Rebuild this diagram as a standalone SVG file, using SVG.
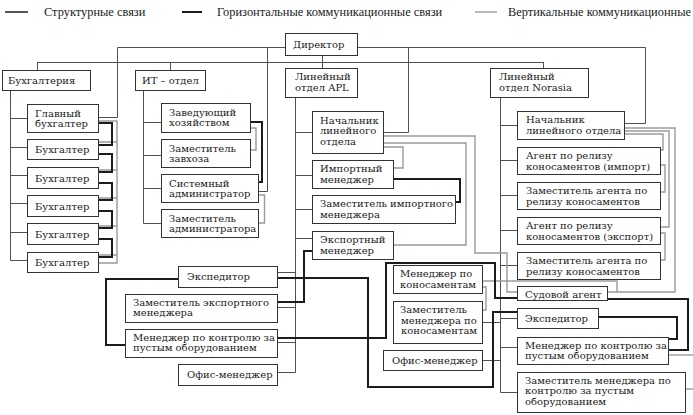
<svg xmlns="http://www.w3.org/2000/svg" width="693" height="415" viewBox="0 0 693 415">
<style>
.bx{fill:#fff;stroke:#333;stroke-width:1}
.t{font-family:"DejaVu Serif","Liberation Serif",serif;font-size:10px;fill:#1a1a1a}
.lg{font-family:"Liberation Serif","Times New Roman",serif;font-size:12.4px;fill:#1a1a1a}
.s{fill:none;stroke:#505050;stroke-width:1}
.h{fill:none;stroke:#1c1c1c;stroke-width:2}
.v{fill:none;stroke:#9a9a9a;stroke-width:1.4}
</style>
<rect width="693" height="415" fill="#fff"/>
<g id="legend">
<path class="h" d="M5,12H28" style="stroke-width:1.5"/>
<text class="lg" x="44" y="15.5">Структурные связи</text>
<path class="h" d="M182,12H202"/>
<text class="lg" x="217" y="15.5">Горизонтальные коммуникационные связи</text>
<path class="v" d="M475,12H497"/>
<text class="lg" x="508" y="15.5">Вертикальные коммуникационные связи</text>
</g>
<g id="connectors">
<path class="s" d="M37.5,62.5H543.5M37.5,62V70M170.5,62V70M322.5,55V68M543.5,62V68"/>
<path class="s" d="M285,47.5H117.5V117.5H98"/>
<path class="s" d="M267.5,47.5V191.5H258"/>
<path class="s" d="M357,47.5H645.5V123.5H624"/>
<path class="s" d="M408.5,47.5V132.5H383"/>
<path class="s" d="M10.5,90V260.5H27M10.5,118.5H27M10.5,147.5H27M10.5,175.5H27M10.5,203.5H27M10.5,232.5H27"/>
<path class="s" d="M143.5,90V223.5H161M143.5,122.5H161M143.5,155.5H161M143.5,188.5H161"/>
<path class="s" d="M295.5,97V372.5H277M295.5,132.5H312M295.5,175.5H312M295.5,209.5H312M295.5,238.5H312M277,272.5H295.5M277,307.5H295.5M277,342.5H295.5"/>
<path class="s" d="M500.5,97V392.5H517M500.5,125.5H517M500.5,160.5H517M500.5,195.5H517M500.5,230.5H517M500.5,265.5H517M500.5,318.5H517M500.5,347.5H517M482,322.5H500.5M482,360.5H500.5"/>
<path class="v" d="M98,121H117V263H98M98,142H117M98,170H117M98,198H117M98,226H117M98,255H117"/>
<path class="v" d="M250,128H256V150H250"/>
<path class="v" d="M258,195H264.5V223H258"/>
<path class="v" d="M383,136H475V253H507V292H517"/>
<path class="v" d="M383,143H466V245H393"/>
<path class="v" d="M383,147H403V168H393"/>
<path class="v" d="M482,281H617V292H607"/>
<path class="v" d="M482,287H486V310H482"/>
<path class="v" d="M624,134H663V150H660"/>
<path class="v" d="M624,131H669V227H660"/>
<path class="v" d="M624,128H675V292H617"/>
<path class="v" d="M660,165H665V192H660"/>
<path class="v" d="M660,233H665V260H660"/>
<path class="v" d="M668,355H693"/>
<path class="v" d="M685,389H693"/>
<path class="h" d="M98,123H112V145H98"/>
<path class="h" d="M98,154H112V172H98"/>
<path class="h" d="M98,183H112V200H98"/>
<path class="h" d="M98,211H112V228H98"/>
<path class="h" d="M98,239H112V257H98"/>
<path class="h" d="M250,122H262V182H258"/>
<path class="h" d="M393,179H460V202H455"/>
<path class="h" d="M312,251H304V302H277"/>
<path class="h" d="M277,278H368V387H493V312H517"/>
<path class="h" d="M277,338H386V263H495V298H517"/>
<path class="h" d="M178,279H106V345H125"/>
<path class="h" d="M607,299H688V350H668"/>
<path class="h" d="M598,317H677V339H668"/>
</g>
<g id="director"><rect class="bx" x="285.5" y="33.5" width="72" height="22"/><text class="t" x="293" y="48">Директор</text></g>
<g id="buh"><rect class="bx" x="2.5" y="70.5" width="88" height="20"/><text class="t" x="8" y="84">Бухгалтерия</text></g>
<g id="it"><rect class="bx" x="135.5" y="70.5" width="70" height="20"/><text class="t" x="142" y="84">ИТ – отдел</text></g>
<g id="apl"><rect class="bx" x="285.5" y="68.5" width="72" height="29"/><text class="t" x="295" y="80"><tspan>Линейный</tspan><tspan x="295" dy="11">отдел APL</tspan></text></g>
<g id="nor"><rect class="bx" x="490.5" y="68.5" width="98" height="29"/><text class="t" x="499" y="80"><tspan>Линейный</tspan><tspan x="499" dy="11">отдел Norasia</tspan></text></g>
<g id="gb"><rect class="bx" x="27.5" y="104.5" width="71" height="28"/><text class="t" x="35" y="116.5"><tspan>Главный</tspan><tspan x="35" dy="10.5">бухгалтер</tspan></text></g>
<g id="b1"><rect class="bx" x="27.5" y="139.5" width="71" height="20"/><text class="t" x="35" y="153">Бухгалтер</text></g>
<g id="b2"><rect class="bx" x="27.5" y="167.5" width="71" height="21"/><text class="t" x="35" y="181.5">Бухгалтер</text></g>
<g id="b3"><rect class="bx" x="27.5" y="195.5" width="71" height="21"/><text class="t" x="35" y="209.5">Бухгалтер</text></g>
<g id="b4"><rect class="bx" x="27.5" y="223.5" width="71" height="21"/><text class="t" x="35" y="237.5">Бухгалтер</text></g>
<g id="b5"><rect class="bx" x="27.5" y="252.5" width="71" height="20"/><text class="t" x="35" y="265.5">Бухгалтер</text></g>
<g id="zav"><rect class="bx" x="161.5" y="103.5" width="89" height="29"/><text class="t" x="169" y="115.5"><tspan>Заведующий</tspan><tspan x="169" dy="10.5">хозяйством</tspan></text></g>
<g id="zzav"><rect class="bx" x="161.5" y="139.5" width="89" height="28"/><text class="t" x="169" y="151.5"><tspan>Заместитель</tspan><tspan x="169" dy="10.5">завхоза</tspan></text></g>
<g id="sys"><rect class="bx" x="161.5" y="174.5" width="97" height="28"/><text class="t" x="169" y="186.5"><tspan>Системный</tspan><tspan x="169" dy="10.5">администратор</tspan></text></g>
<g id="zsys"><rect class="bx" x="161.5" y="209.5" width="97" height="28"/><text class="t" x="169" y="221.5"><tspan>Заместитель</tspan><tspan x="169" dy="10.5">администратора</tspan></text></g>
<g id="nach_apl"><rect class="bx" x="312.5" y="111.5" width="71" height="42"/><text class="t" x="320" y="123.5"><tspan>Начальник</tspan><tspan x="320" dy="10.5">линейного</tspan><tspan x="320" dy="10.5">отдела</tspan></text></g>
<g id="imp"><rect class="bx" x="312.5" y="160.5" width="81" height="28"/><text class="t" x="320" y="172"><tspan>Импортный</tspan><tspan x="320" dy="10.5">менеджер</tspan></text></g>
<g id="zimp"><rect class="bx" x="312.5" y="195.5" width="143" height="28"/><text class="t" x="320" y="207"><tspan>Заместитель импортного</tspan><tspan x="320" dy="10.5">менеджера</tspan></text></g>
<g id="exp"><rect class="bx" x="312.5" y="231.5" width="81" height="28"/><text class="t" x="320" y="243"><tspan>Экспортный</tspan><tspan x="320" dy="10.5">менеджер</tspan></text></g>
<g id="exped_apl"><rect class="bx" x="178.5" y="266.5" width="99" height="21"/><text class="t" x="187" y="280">Экспедитор</text></g>
<g id="zexp"><rect class="bx" x="125.5" y="294.5" width="152" height="28"/><text class="t" x="133" y="305.5"><tspan>Заместитель экспортного</tspan><tspan x="133" dy="10.5">менеджера</tspan></text></g>
<g id="mkon_apl"><rect class="bx" x="125.5" y="329.5" width="152" height="28"/><text class="t" x="133" y="340.5"><tspan>Менеджер по контролю за</tspan><tspan x="133" dy="10.5">пустым оборудованием</tspan></text></g>
<g id="ofis_apl"><rect class="bx" x="178.5" y="364.5" width="99" height="21"/><text class="t" x="187" y="378">Офис-менеджер</text></g>
<g id="nach_nor"><rect class="bx" x="517.5" y="111.5" width="107" height="28"/><text class="t" x="526" y="123"><tspan>Начальник</tspan><tspan x="526" dy="10.5">линейного отдела</tspan></text></g>
<g id="a1"><rect class="bx" x="517.5" y="147.5" width="143" height="27"/><text class="t" x="526" y="159"><tspan>Агент по релизу</tspan><tspan x="526" dy="10.5">коносаментов (импорт)</tspan></text></g>
<g id="za1"><rect class="bx" x="517.5" y="182.5" width="143" height="27"/><text class="t" x="526" y="194"><tspan>Заместитель агента по</tspan><tspan x="526" dy="10.5">релизу коносаментов</tspan></text></g>
<g id="a2"><rect class="bx" x="517.5" y="217.5" width="143" height="27"/><text class="t" x="526" y="229"><tspan>Агент по релизу</tspan><tspan x="526" dy="10.5">коносаментов (экспорт)</tspan></text></g>
<g id="za2"><rect class="bx" x="517.5" y="252.5" width="143" height="27"/><text class="t" x="526" y="264"><tspan>Заместитель агента по</tspan><tspan x="526" dy="10.5">релизу коносаментов</tspan></text></g>
<g id="mkn"><rect class="bx" x="393.5" y="265.5" width="89" height="28"/><text class="t" x="400" y="277"><tspan>Менеджер по</tspan><tspan x="400" dy="10.5">коносаментам</tspan></text></g>
<g id="zmkn"><rect class="bx" x="393.5" y="301.5" width="89" height="42"/><text class="t" x="400" y="313"><tspan>Заместитель</tspan><tspan x="401" dy="10.5">менеджера по</tspan><tspan x="401" dy="10.5">коносаментам</tspan></text></g>
<g id="ofis_nor"><rect class="bx" x="383.5" y="350.5" width="99" height="20"/><text class="t" x="392" y="364">Офис-менеджер</text></g>
<g id="sud"><rect class="bx" x="517.5" y="286.5" width="90" height="14"/><text class="t" x="525" y="297.5">Судовой агент</text></g>
<g id="exped_nor"><rect class="bx" x="517.5" y="308.5" width="81" height="20"/><text class="t" x="525" y="322">Экспедитор</text></g>
<g id="mkon_nor"><rect class="bx" x="517.5" y="337.5" width="151" height="27"/><text class="t" x="525" y="348.5"><tspan>Менеджер по контролю за</tspan><tspan x="525" dy="10.5">пустым оборудованием</tspan></text></g>
<g id="zmkon_nor"><rect class="bx" x="517.5" y="372.5" width="168" height="40"/><text class="t" x="525" y="383.5"><tspan>Заместитель менеджера по</tspan><tspan x="525" dy="10.5">контролю за пустым</tspan><tspan x="525" dy="10.5">оборудованием</tspan></text></g>
</svg>
